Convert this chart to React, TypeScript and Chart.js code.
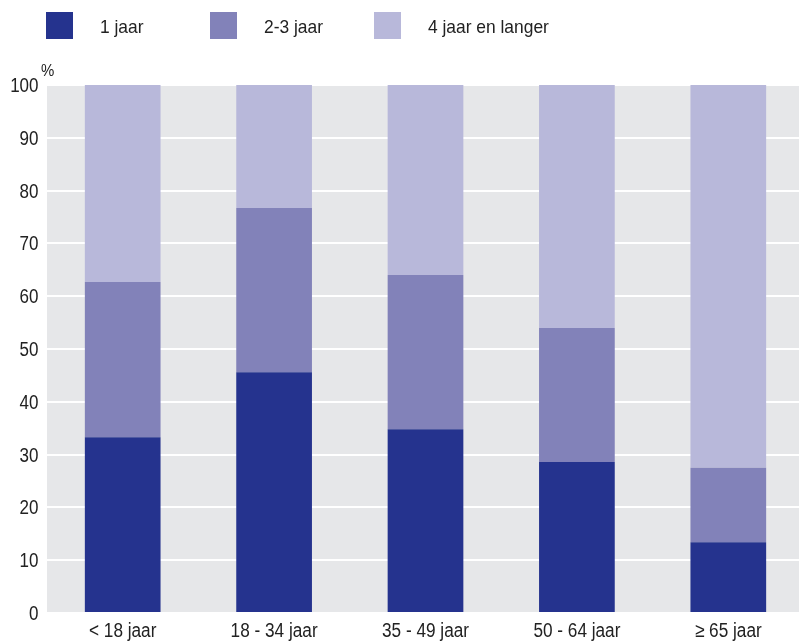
import React, { useEffect, useRef } from "react";
import { Chart, registerables } from "chart.js";

Chart.register(...registerables);

const categories = ["< 18 jaar", "18 - 34 jaar", "35 - 49 jaar", "50 - 64 jaar", "≥ 65 jaar"];
const seriesNames = ["1 jaar", "2-3 jaar", "4 jaar en langer"];
const jaar1 = [33.3, 45.6, 34.8, 28.6, 13.4];
const jaar23 = [29.4, 31.1, 29.2, 25.4, 14.1];
const jaar4plus = [37.3, 23.3, 36.0, 46.0, 72.5];
const yTicks = [0, 10, 20, 30, 40, 50, 60, 70, 80, 90, 100];
const colors = ["#25338e", "#8282b9", "#b8b8da"];

const FONT = '"Liberation Sans", Arial, sans-serif';
const TEXT = "#222222";

function drawText(ctx: any, text: string, x: number, y: number, align: string, size: number, sx: number) {
  ctx.save();
  ctx.translate(x, y);
  ctx.scale(sx, 1);
  ctx.font = `${size}px ${FONT}`;
  ctx.fillStyle = TEXT;
  ctx.textAlign = align;
  ctx.textBaseline = "alphabetic";
  ctx.fillText(text, 0, 0);
  ctx.restore();
}

const bgPlugin = {
  id: "bgPlugin",
  beforeDraw(chart: any) {
    const { ctx, chartArea } = chart;
    ctx.save();
    ctx.fillStyle = "#e6e7e9";
    ctx.fillRect(chartArea.left, chartArea.top, chartArea.right - chartArea.left, chartArea.bottom - chartArea.top);
    ctx.restore();
  },
  afterDraw(chart: any) {
    const { ctx } = chart;
    // legend
    const boxX = [46, 210, 374];
    chart.data.datasets.forEach((ds: any, i: number) => {
      ctx.save();
      ctx.fillStyle = ds.backgroundColor;
      ctx.fillRect(boxX[i], 12, 27, 27);
      ctx.restore();
      drawText(ctx, ds.label, boxX[i] + 54, 33, "left", 18.5, 0.94);
    });
    // % label
    drawText(ctx, "%", 41, 76, "left", 17, 0.88);
    // y tick labels
    const ys = chart.scales.y;
    yTicks.forEach((v) => {
      drawText(ctx, String(v), 38.5, ys.getPixelForValue(v) + 7, "right", 20, 0.85);
    });
    // x tick labels
    const xs = chart.scales.x;
    chart.data.labels.forEach((lab: string, i: number) => {
      drawText(ctx, lab, xs.getPixelForValue(i), 637, "center", 20, 0.86);
    });
  },
};

export default function App() {
  const ref = useRef<HTMLCanvasElement>(null);
  useEffect(() => {
    document.body.style.margin = "0";
    document.body.style.overflow = "hidden";
    const chart = new Chart(ref.current!, {
      type: "bar",
      data: {
        labels: categories,
        datasets: [
          { label: seriesNames[0], data: jaar1, backgroundColor: colors[0] },
          { label: seriesNames[1], data: jaar23, backgroundColor: colors[1] },
          { label: seriesNames[2], data: jaar4plus, backgroundColor: colors[2] },
        ],
      },
      options: {
        animation: false,
        responsive: false,
        maintainAspectRatio: false,
        layout: { padding: { top: 85, left: 0, right: 0, bottom: 0 } },
        datasets: { bar: { barPercentage: 0.5, categoryPercentage: 1, borderWidth: 0 } },
        plugins: { legend: { display: false }, tooltip: { enabled: false } },
        scales: {
          x: {
            stacked: true,
            grid: { display: false, drawTicks: false },
            border: { display: false },
            ticks: { display: false },
            afterFit(scale: any) {
              scale.height = 28;
            },
          },
          y: {
            stacked: true,
            min: 0,
            max: 100,
            afterBuildTicks(scale: any) {
              scale.ticks = yTicks.map((v) => ({ value: v }));
            },
            grid: { color: "#ffffff", lineWidth: 2, drawTicks: false },
            border: { display: false },
            ticks: { display: false },
            afterFit(scale: any) {
              scale.width = 47;
            },
          },
        },
      },
      plugins: [bgPlugin],
    });
    return () => chart.destroy();
  }, []);
  return (
    <div style={{ position: "fixed", left: 0, top: 0, width: 804, height: 641 }}>
      <canvas ref={ref} width={804} height={641} style={{ width: 804, height: 641 }} />
    </div>
  );
}
